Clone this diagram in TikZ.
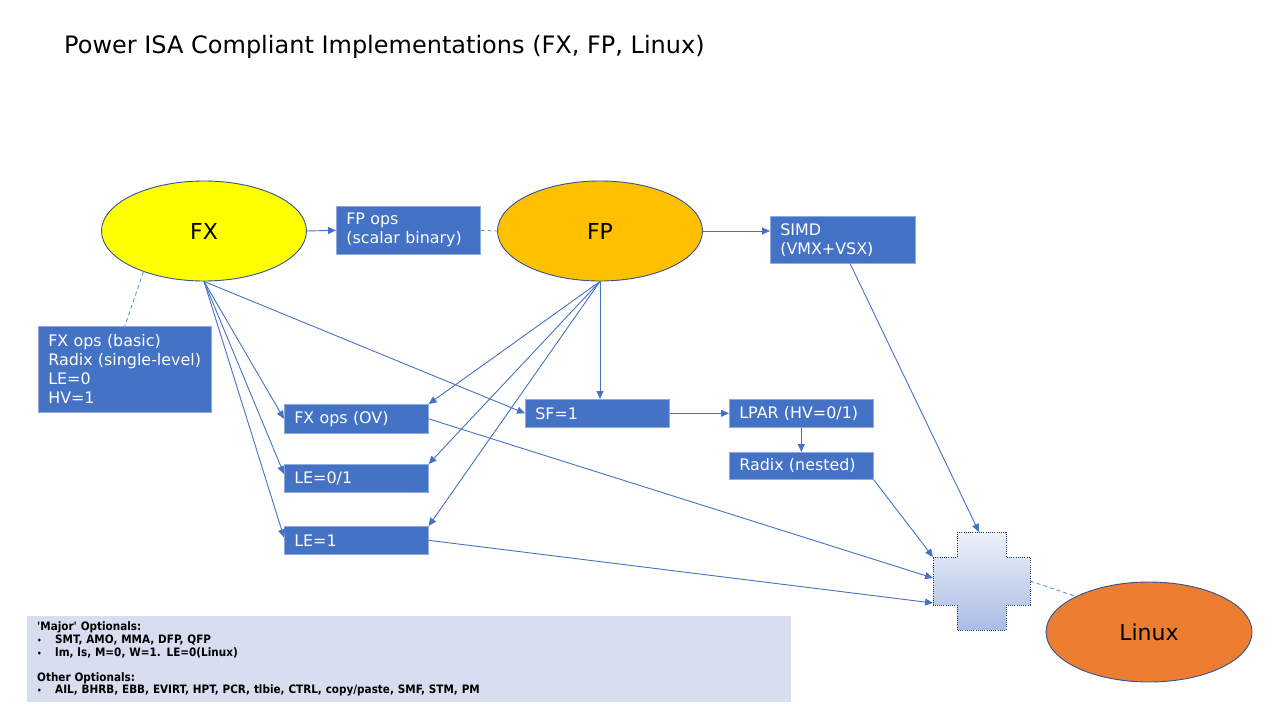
\documentclass[tikz,border=0pt]{standalone}
\usepackage{fontspec}
\setmainfont{DejaVu Sans}
\newfontfamily\notefont{DejaVu Sans Condensed}
\usetikzlibrary{arrows.meta,shapes.geometric,calc}
\definecolor{boxblue}{HTML}{4472C4}
\definecolor{boxedge}{HTML}{8FAADC}
\definecolor{elledge}{HTML}{2F5597}
\definecolor{fxfill}{HTML}{FFFF00}
\definecolor{fpfill}{HTML}{FFC000}
\definecolor{linuxfill}{HTML}{ED7D31}
\definecolor{notefill}{HTML}{D8DEF0}
\definecolor{dashblue}{HTML}{5B9BD5}
\definecolor{crosstop}{HTML}{EEF1FA}
\definecolor{crossbot}{HTML}{A9BDE5}
\definecolor{crossedge}{HTML}{203864}
\tikzset{
  ell/.style={ellipse, draw=elledge, line width=0.9pt, minimum width=205pt, minimum height=100pt, inner sep=0pt, font=\fontsize{22}{26}\selectfont},
  bbox/.style={rectangle, fill=boxblue, draw=boxedge, line width=0.6pt, text=white, align=left, anchor=north west, inner xsep=10pt, inner ysep=0pt, font=\fontsize{15.9}{19}\selectfont},
  conn/.style={draw=boxblue, line width=0.9pt, -{Triangle[length=8pt,width=7pt]}},
  dconn/.style={draw=dashblue, line width=0.9pt, dash pattern=on 4pt off 3pt},
}
\begin{document}
\begin{tikzpicture}[x=1pt,y=-1pt]
\useasboundingbox (0,0) rectangle (1280,720);
\node[anchor=base west, font=\fontsize{24}{28}\selectfont, inner sep=0pt] (title) at (64,53) {Power ISA Compliant Implementations (FX, FP, Linux)};

\node[ell, fill=fxfill] (FX) at (204,231) {FX};
\node[ell, fill=fpfill] (FP) at (600,231) {FP};
\node[ell, fill=linuxfill, minimum width=206pt] (Linux) at (1149,632) {Linux};

\node[bbox, text width=124pt, minimum height=48pt] (fpops) at (336,206) {FP ops\\(scalar binary)};
\node[bbox, text width=125pt, minimum height=47pt] (simd) at (770,216) {SIMD\\(VMX+VSX)};
\node[bbox, text width=153pt, minimum height=86pt] (basic) at (38,326) {FX ops (basic)\\Radix (single-level)\\LE=0\\HV=1};
\node[bbox, text width=124pt, minimum height=29pt] (ov) at (284,404) {FX ops (OV)};
\node[bbox, text width=124pt, minimum height=28pt] (sf) at (525,399) {SF=1};
\node[bbox, text width=124pt, minimum height=28pt] (lpar) at (729,399) {LPAR (HV=0/1)};
\node[bbox, text width=124pt, minimum height=27pt] (radix) at (729,452) {Radix (nested)};
\node[bbox, text width=124pt, minimum height=28pt] (le01) at (284,464) {LE=0/1};
\node[bbox, text width=124pt, minimum height=28pt] (le1) at (284,526) {LE=1};

% cross shape
\shade[top color=crosstop, bottom color=crossbot, draw=crossedge, line width=0.8pt, dash pattern=on 1pt off 1.2pt]
  (957,532) -- (1006,532) -- (1006,557) -- (1030,557) -- (1030,605) -- (1006,605) -- (1006,630) -- (957,630) -- (957,605) -- (933,605) -- (933,557) -- (957,557) -- cycle;
\coordinate (crossTop) at (979,532);
\coordinate (crossTL) at (933,557);
\coordinate (crossL) at (933,578);
\coordinate (crossBL) at (933,603);
\coordinate (crossR) at (1030,581);

% notes
\node[rectangle, fill=notefill, anchor=north west, minimum width=764pt, minimum height=86pt, inner xsep=10pt, inner ysep=0pt, text width=744pt, align=left, font=\notefont\bfseries\fontsize{11.6}{12.6}\selectfont] (note) at (27,616)
{\textquotesingle Major\textquotesingle{} Optionals:\\
\makebox[18pt][l]{\fontsize{8}{8}\selectfont•}SMT, AMO, MMA, DFP, QFP\\
\makebox[18pt][l]{\fontsize{8}{8}\selectfont•}lm, ls, M=0, W=1. LE=0(Linux)\\[12.6pt]
Other Optionals:\\
\makebox[18pt][l]{\fontsize{8}{8}\selectfont•}AIL, BHRB, EBB, EVIRT, HPT, PCR, tlbie, CTRL, copy/paste, SMF, STM, PM};

% connectors
\draw[conn] (FX.east) -- (fpops.west);
\draw[dconn] (fpops.east) -- (FP.west);
\draw[conn] (FP.east) -- (FP.east -| simd.west);
\draw[dconn] (FX.214) -- (basic.north);

\draw[conn] (FX.south) -- (ov.west);
\draw[conn] (FX.south) -- (sf.west);
\draw[conn] (FX.south) -- ($(le01.north west)!0.35!(le01.south west)$);
\draw[conn] (FX.south) -- ($(le1.north west)!0.4!(le1.south west)$);

\draw[conn] (FP.south) -- (ov.north east);
\draw[conn] (FP.south) -- (FP.south |- sf.north);
\draw[conn] (FP.south) -- (le01.north east);
\draw[conn] (FP.south) -- (le1.north east);

\draw[conn] (sf.east) -- (lpar.west);
\draw[conn] (lpar.south) -- (radix.north);

\draw[conn] ($(simd.south west)!0.55!(simd.south east)$) -- (crossTop);
\draw[conn] (radix.south east) -- (crossTL);
\draw[conn] (ov.east) -- (crossL);
\draw[conn] (le1.east) -- (crossBL);
\draw[dconn] (crossR) -- (Linux.154);
\end{tikzpicture}
\end{document}
